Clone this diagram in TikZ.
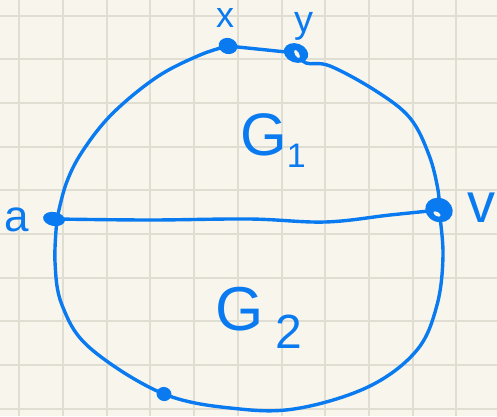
\documentclass[tikz,border=0pt]{standalone}
\usepackage{fontspec}
\setmainfont{Liberation Sans}
\usetikzlibrary{shapes.geometric,calc}
\definecolor{paper}{RGB}{248,246,236}
\definecolor{gridc}{RGB}{224,222,211}
\definecolor{ink}{RGB}{10,122,240}
\begin{document}
\begin{tikzpicture}[x=1pt,y=-1pt,
  edge/.style={draw=ink, line width=3.4pt, line cap=round, line join=round},
  vdot/.style={ellipse, fill=ink, inner sep=0pt},
  hole/.style={ellipse, fill=paper, inner sep=0pt},
  lab/.style={text=ink, inner sep=0pt}]
\fill[paper] (0,0) rectangle (497,416);
\useasboundingbox (0,0) rectangle (497,416);
\foreach \i in {0,...,10} \draw[gridc, line width=2pt] ({19.3+43.7*\i},0) -- ({19.3+43.7*\i},416);
\foreach \j in {0,...,9} \draw[gridc, line width=2pt] (0,{15.5+43.7*\j}) -- (497,{15.5+43.7*\j});
% vertex positions
\coordinate (x) at (228,46);
\coordinate (y) at (296,53);
\coordinate (a) at (57,219);
\coordinate (v) at (439,210);
\coordinate (b) at (164,394);
% edges
\draw[edge] (x) -- (y);
\draw[edge] plot[smooth, tension=0.6] coordinates {(x) (200,55) (157,77) (112,114) (82,152) (66,184) (a)};
\draw[edge] plot[smooth, tension=0.6] coordinates {(y) (306,63) (330,66) (376,91) (410,118) (429,155) (438,190) (v)};
\draw[edge] plot[smooth, tension=0.6] coordinates {(a) (150,220) (250,219) (325,222) (390,215) (v)};
\draw[edge] plot[smooth, tension=0.6] coordinates {(a) (55,262) (62,305) (90,348) (b) (240,409) (300,408) (370,386) (417,350) (437,305) (443,255) (v)};
% vertex dots
\node[vdot, minimum width=19pt, minimum height=16pt, rotate=-15] (xn) at (x) {};
\node[vdot, minimum width=25pt, minimum height=19pt, rotate=-20] (yn) at (y) {};
\node[hole, minimum width=9pt, minimum height=4pt, rotate=-60] (yh) at ($(y)+(1,1)$) {};
\node[vdot, minimum width=22pt, minimum height=14pt, rotate=-10] (an) at ($(a)+(-3,0)$) {};
\node[vdot, minimum width=28pt, minimum height=24pt, rotate=-20] (vn) at (v) {};
\node[hole, minimum width=8pt, minimum height=4pt, rotate=-30] (vh) at ($(v)+(-2,4)$) {};
\node[vdot, minimum width=15pt, minimum height=14pt, rotate=-20] (bn) at (b) {};
% labels
\node[lab, font=\fontsize{36}{36}\selectfont] (xl) at (225,18) {x};
\node[lab, font=\fontsize{38}{38}\selectfont] (yl) at (304,26) {y};
\node[lab, font=\fontsize{44}{44}\selectfont] (al) at (17,220) {a};
\node[lab, font=\fontsize{56}{56}\selectfont] (vl) at (481,208) {v};
\node[lab, anchor=base west, font=\fontsize{60}{60}\selectfont] (g1) at (240,155) {G\raisebox{-12pt}{\fontsize{34}{34}\selectfont 1}};
\node[lab, anchor=base west, font=\fontsize{62}{62}\selectfont] (g2) at (215,330) {G\hspace{12pt}\raisebox{-18pt}{\fontsize{48}{48}\selectfont 2}};
\end{tikzpicture}
\end{document}
